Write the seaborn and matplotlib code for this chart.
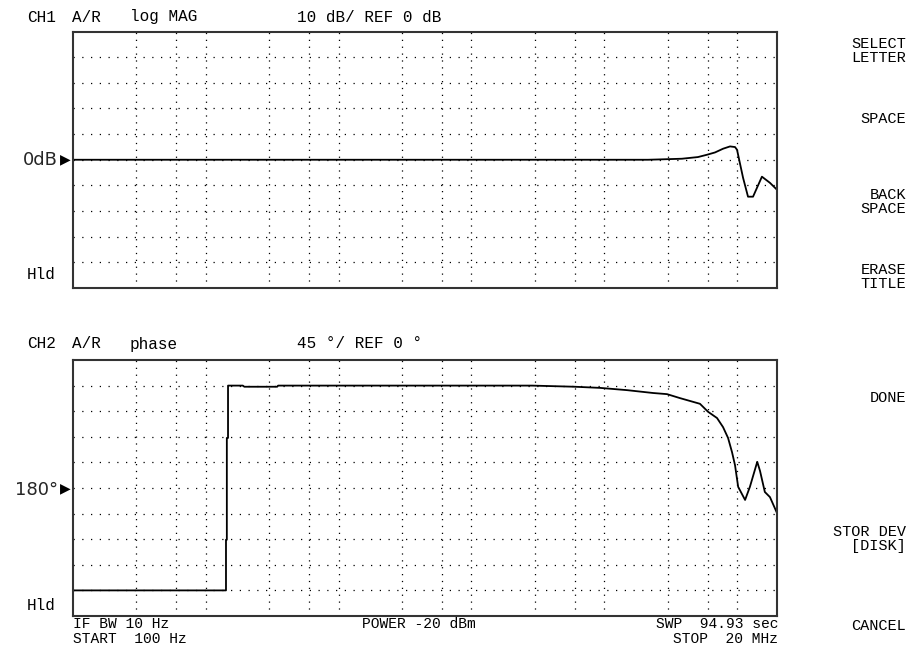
import numpy as np
import pandas as pd
import matplotlib
matplotlib.use('Agg')
import matplotlib.pyplot as plt
import matplotlib.transforms as mtrans
from matplotlib.ticker import NullLocator
import seaborn as sns

# CH1 log MAG trace (Hz, dB)
mag_freq = [100, 2.14e6, 2.5e6, 3.85e6, 5.08e6, 5.94e6, 6.83e6, 7.85e6, 8.86e6,
            9.66e6, 10.0e6, 11.1e6, 12.1e6, 13.2e6, 15.4e6, 17.7e6, 20e6]
mag_db = [0, 0, 0.1, 0.4, 1.05, 1.95, 2.85, 4.3, 5.2,
          4.95, 3.9, -7.0, -14.4, -14.4, -6.6, -9.0, -11.7]

# CH2 phase trace (Hz, degrees)
phase_freq = [100, 1419, 1419, 1440, 1440, 1470, 1470, 1900, 1950, 3450, 3500,
              286e3, 600e3, 929e3, 1.486e6, 2.33e6, 2.97e6, 3.72e6, 5.26e6, 6.05e6,
              7.07e6, 7.85e6, 8.56e6, 9.17e6, 9.66e6, 10.2e6, 11.5e6, 12.5e6,
              14.2e6, 14.9e6, 16.2e6, 17.7e6, 20e6]
phase_deg = [-180, -180, -91, -91, 88, 88, 180, 180, 178, 178, 180,
             180, 178, 176, 172, 167, 165, 158, 148, 134,
             123, 107, 88, 63, 40, 2, -21, 2,
             46, 30, -7, -16, -44]

grid_freq = [300, 600, 1e3, 3e3, 6e3, 1e4, 3e4, 6e4, 1e5, 3e5, 6e5, 1e6, 3e6, 6e6, 1e7]
mag_ticks = list(range(-40, 50, 10))
phase_ticks = list(range(-180, 225, 45))

softkeys = [('SELECT', 44), ('LETTER', 58), ('SPACE', 119), ('BACK', 195), ('SPACE', 209),
            ('ERASE', 270), ('TITLE', 284), ('DONE', 398), ('STOR DEV', 532),
            ('[DISK]', 546), ('CANCEL', 626)]

sns.set_style('white')
plt.rcParams['font.family'] = ['Liberation Mono', 'DejaVu Sans Mono']

W, H = 909, 655
fig = plt.figure(figsize=(W / 100, H / 100), dpi=100)


def box(top, bottom):
    return [73 / W, 1 - bottom / H, 704 / W, (bottom - top) / H]


def px_text(x, y, s, ha='left', size=11.5, **kw):
    fig.text(x / W, 1 - y / H, s, ha=ha, va='center', fontsize=size, color='black', **kw)


ax1 = fig.add_axes(box(31.5, 288))
ax2 = fig.add_axes(box(360, 616))

df_mag = pd.DataFrame({'freq': mag_freq, 'val': mag_db})
df_ph = pd.DataFrame({'freq': phase_freq, 'val': phase_deg})

for ax, df, lim, yt in [(ax1, df_mag, (-50, 50), mag_ticks),
                        (ax2, df_ph, (-225, 225), phase_ticks)]:
    sns.lineplot(data=df, x='freq', y='val', ax=ax, color='black', lw=1.3,
                 estimator=None, sort=False)
    ax.set_xscale('log')
    ax.set_xlim(100, 20e6)
    ax.set_ylim(*lim)
    ax.set_xticks(grid_freq)
    ax.xaxis.set_minor_locator(NullLocator())
    ax.set_yticks(yt)
    ax.tick_params(length=0, labelbottom=False, labelleft=False)
    ax.set_xlabel('')
    ax.set_ylabel('')
    ax.xaxis.grid(True, color='black', linestyle=(0, (1, 4.5)), lw=0.9)
    ax.yaxis.grid(True, color='black', linestyle=(0, (1, 6)), lw=0.9)
    for sp in ax.spines.values():
        sp.set_color('#333333')
        sp.set_linewidth(1.5)
    tr = mtrans.blended_transform_factory(ax.transAxes, ax.transData)
    ax.text(-0.004, 0, '\u25b6', transform=tr, ha='right', va='center',
            fontsize=10, family='DejaVu Sans', color='black', clip_on=False)

# reference labels
fig.text(58 / W, 1 - 160 / H, '0dB', ha='right', va='center', fontsize=13, family='DejaVu Sans')
fig.text(58 / W, 1 - 490 / H, '180\u00b0', ha='right', va='center', fontsize=13, family='DejaVu Sans')

# channel headers
px_text(27, 17, 'CH1')
px_text(72, 17, 'A/R')
px_text(130, 17, 'log MAG')
px_text(297, 17, '10 dB/ REF 0 dB')
px_text(27, 344, 'CH2')
px_text(72, 344, 'A/R')
px_text(130, 344, 'phase')
px_text(297, 344, '45 \u00b0/ REF 0 \u00b0')

px_text(27, 275, 'Hld')
px_text(27, 605, 'Hld')

# footer
px_text(73, 624, 'IF BW 10 Hz', size=10.5)
px_text(73, 639, 'START  100 Hz', size=10.5)
px_text(362, 624, 'POWER -20 dBm', size=10.5)
px_text(778, 624, 'SWP  94.93 sec', ha='right', size=10.5)
px_text(778, 639, 'STOP  20 MHz', ha='right', size=10.5)

for label, y in softkeys:
    px_text(906, y, label, ha='right', size=11)

fig.savefig('out.png', dpi=100)
